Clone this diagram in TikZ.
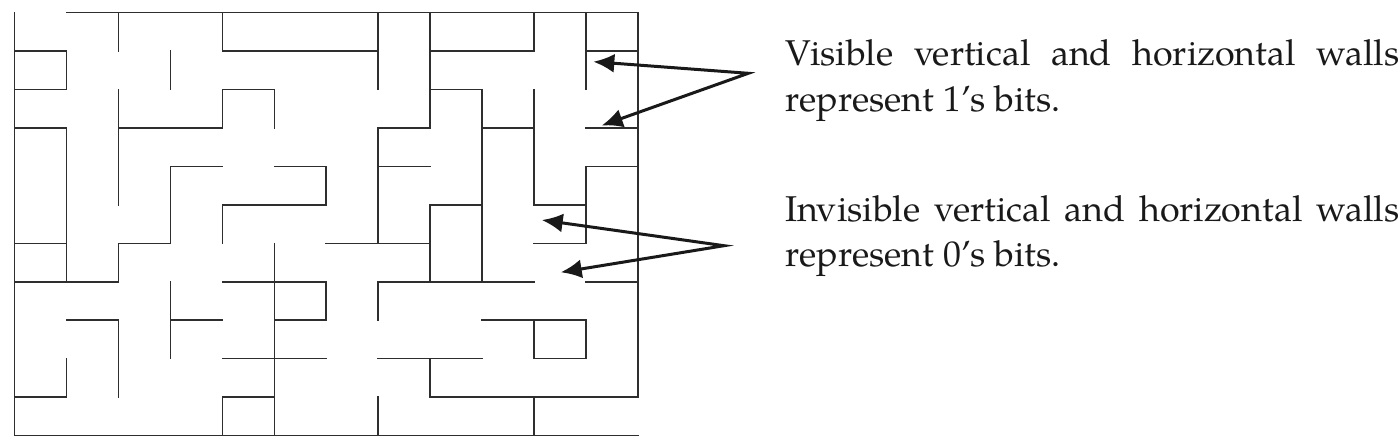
\documentclass[tikz,border=0pt]{standalone}
\usepackage{fontspec}
\setmainfont{TeX Gyre Pagella}
\usetikzlibrary{arrows.meta}
\begin{document}
\begin{tikzpicture}[x=1bp,y=-1bp,
  wall/.style={line width=1.6bp, draw=black!82, line cap=rect},
  pointer/.style={line width=3bp, draw=black!90, line join=miter,
    {Latex[length=21bp,width=19bp]}-{Latex[length=21bp,width=19bp]}},
  txt/.style={anchor=base west, inner sep=0pt, text=black!90,
    font=\fontsize{36}{43}\selectfont}]
\useasboundingbox (0,0) rectangle (1400,445);
% maze
\begin{scope}[shift={(14.5,12.7)}, x=51.96bp, y=-38.44bp]
  % horizontal walls: row line / from column / to column
  \foreach \j/\a/\b in {0/1/12,
    1/0/1, 1/4/7, 1/8/10, 1/11/12,
    2/0/1, 2/4/5, 2/8/9,
    3/0/1, 3/2/4, 3/7/8, 3/9/10, 3/11/12,
    4/3/4, 4/5/6, 4/7/8, 4/11/12,
    5/4/6, 5/8/9, 5/10/11,
    6/0/1, 6/2/3, 6/6/8, 6/10/11,
    7/0/2, 7/4/6, 7/7/10, 7/11/12,
    8/1/2, 8/3/4, 8/5/6, 8/9/11,
    9/4/6, 9/7/9, 9/10/11,
    10/0/1, 10/4/5, 10/8/12,
    11/0/12}
    \draw[wall] (\a,\j) -- (\b,\j);
  % vertical walls: column line / from row / to row
  \foreach \i/\a/\b in {0/0/11,
    1/1/2, 1/3/7, 1/9/10,
    2/0/1, 2/2/5, 2/6/7, 2/8/10,
    3/1/2, 3/4/6, 3/7/9,
    4/0/1, 4/2/3, 4/5/6, 4/10/11,
    5/2/3, 5/6/11,
    6/4/5, 6/7/8,
    7/0/2, 7/3/6, 7/7/8, 7/10/11,
    8/0/3, 8/5/7, 8/9/10,
    9/2/7,
    10/0/1, 10/2/5, 10/8/9, 10/10/11,
    11/0/2, 11/4/6, 11/8/9,
    12/0/10}
    \draw[wall] (\i,\a) -- (\i,\b);
\end{scope}
% arrows
\coordinate (a1) at (748.3,73.3);
\coordinate (t1) at (593.3,61.7);
\coordinate (t2) at (601.7,125.5);
\coordinate (a2) at (724,245.7);
\coordinate (t3) at (541.7,220);
\coordinate (t4) at (560.7,272.3);
\draw[pointer] (t1) -- (a1) -- (t2);
\draw[pointer] (t3) -- (a2) -- (t4);
% texts
\node[txt] (v1) at (785,66) {\makebox[614bp][s]{Visible vertical and horizontal walls}};
\node[txt] (v2) at (785,111.7) {represent 1’s bits.};
\node[txt] (i1) at (785,221.5) {\makebox[614bp][s]{Invisible vertical and horizontal walls}};
\node[txt] (i2) at (785,266.7) {represent 0’s bits.};
\end{tikzpicture}
\end{document}
